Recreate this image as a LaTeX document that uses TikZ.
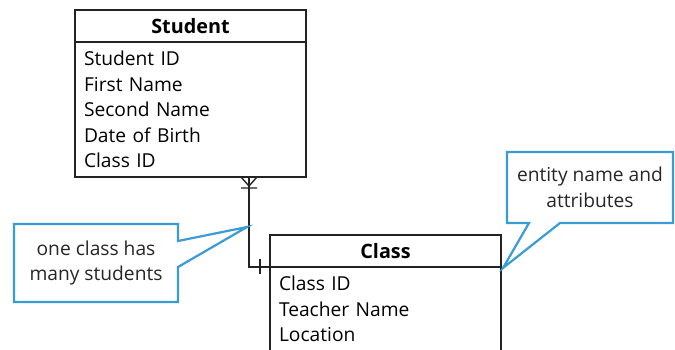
\documentclass[tikz,border=0pt]{standalone}
\usepackage{fontspec}
\setmainfont{Open Sans}
\usetikzlibrary{positioning}
\definecolor{note-blau}{RGB}{58,155,215}
\definecolor{line-gris}{RGB}{35,35,35}

\begin{document}
\begin{tikzpicture}[x=1pt, y=-1pt, font=\fontsize{19.2}{25.5}\selectfont,
	   hd/.style={draw=line-gris, line width=1.2pt, outer sep=0pt, inner sep=0pt, minimum width=231pt, minimum height=32pt, font=\fontsize{19.8}{25.5}\selectfont\bfseries},
	   bd/.style={draw=line-gris, line width=1.2pt, outer sep=0pt, inner sep=0pt, minimum width=231pt, text width=213pt, align=left},
	   note/.style={inner sep=0pt, outer sep=0pt, align=center, text=black!85},
	   link/.style={draw=line-gris, line width=1.4pt},
	   bubble/.style={draw=note-blau, line width=2.2pt, line join=miter}]
	  \useasboundingbox (0,0) rectangle (675,349);
	  \clip (0,0) rectangle (675,349);
	  \node[hd] (stuhead) at (190.5,26) {Student};
	  \node[bd, minimum height=135pt, below=0pt of stuhead] (stubody) {Student ID\\First Name\\Second Name\\Date of Birth\\Class ID};
	  \node[hd] (clshead) at (385.5,251) {Class};
	  \node[bd, minimum height=84pt, below=0pt of clshead] (clsbody) {Class ID\\Teacher Name\\Location};
	  \coordinate (many) at ([xshift=174pt]stubody.south west);
	  \draw[link] (many) |- (clsbody.north west);
	  \draw[link] (many) ++(-8,0) -- ++(8,9) -- ++(8,-9) (many) ++(-8,11) -- ++(16,0);
	  \draw[link] (clsbody.north west) ++(-10,-8) -- ++(0,15);
	  \node[note, minimum width=164pt, minimum height=78pt] (notea) at (96,263) {one class has\\many students};
	  \node[note, minimum width=166pt, minimum height=71pt] (noteb) at (590,187.5) {entity name and\\attributes};
	  \draw[bubble] (notea.south east) -- (notea.south west) -- (notea.north west) -- (notea.north east) -- ++(0,17) -- ([shift={(-2,50)}]many) -- ([yshift=35pt]notea.south east) -- cycle;
	  \draw[bubble] (noteb.south west) -- (noteb.north west) -- (noteb.north east) -- (noteb.south east) -- ++(-113,0) -- ([shift={(2,1)}]clshead.south east) -- ([xshift=22pt]noteb.south west) -- cycle;
	\end{tikzpicture}
\end{document}
